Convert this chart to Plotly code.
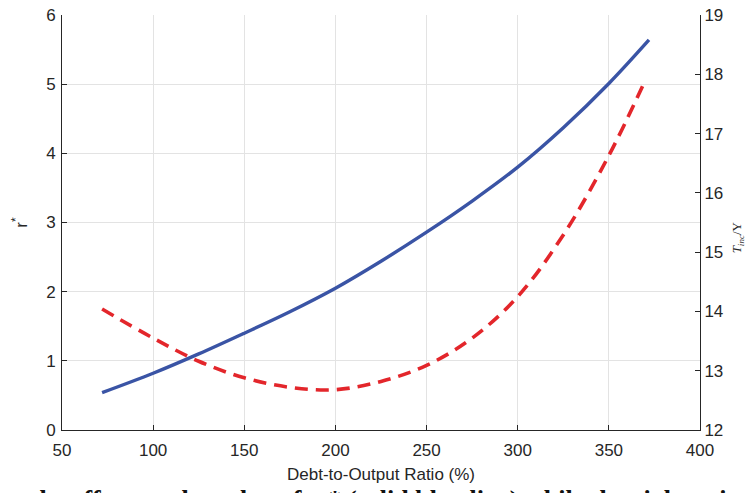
import plotly.graph_objects as go

# Data
debt_blue = [72, 100, 125, 150, 175, 200, 225, 250, 275, 300, 325, 350, 372]
r_star = [0.54, 0.82, 1.10, 1.40, 1.71, 2.05, 2.44, 2.86, 3.31, 3.80, 4.37, 5.01, 5.64]

debt_red = [72, 100, 125, 150, 175, 200, 225, 250, 275, 300, 325, 350, 370]
tinc_y = [14.04, 13.55, 13.16, 12.88, 12.72, 12.68, 12.82, 13.09, 13.55, 14.25, 15.29, 16.63, 17.90]

x_ticks = [50, 100, 150, 200, 250, 300, 350, 400]
y_ticks = [0, 1, 2, 3, 4, 5, 6]
y2_ticks = [12, 13, 14, 15, 16, 17, 18, 19]

axis_col = "#262626"
grid_col = "#e3e3e3"
font_fam = "Liberation Sans, Arial, sans-serif"

fig = go.Figure()
fig.add_trace(go.Scatter(
    x=debt_blue, y=r_star, mode="lines", line=dict(color="#3a54a5", width=3.4, shape="spline"),
    showlegend=False, yaxis="y"))
fig.add_trace(go.Scatter(
    x=debt_red, y=tinc_y, mode="lines",
    line=dict(color="#e3262b", width=3.6, dash="13px,8px", shape="spline"),
    showlegend=False, yaxis="y2"))

common = dict(ticks="inside", ticklen=5, tickcolor=axis_col, showline=True, linecolor=axis_col,
              linewidth=1, zeroline=False, automargin=False, ticklabeloverflow="allow")

fig.update_layout(
    width=748, height=485,
    margin=dict(l=54, r=56, t=7, b=63, autoexpand=False),
    paper_bgcolor="white", plot_bgcolor="white",
    font=dict(family=font_fam, size=17, color=axis_col),
    xaxis=dict(range=[50, 400], tickvals=x_ticks, showgrid=True, gridcolor=grid_col, gridwidth=1,
               ticklabelstandoff=5,
               title=dict(text="Debt-to-Output Ratio (%)", font=dict(size=17), standoff=8), **common),
    yaxis=dict(range=[0, 6], tickvals=y_ticks, showgrid=True, gridcolor=grid_col, gridwidth=1,
               ticklabelstandoff=2,
               title=dict(text="r<sup>*</sup>", font=dict(size=17), standoff=14), **common),
    yaxis2=dict(range=[12, 19], tickvals=y2_ticks, showgrid=False,
                overlaying="y", side="right", **common),
)

fig.add_annotation(
    xref="paper", yref="paper", x=1.075, y=0.465, showarrow=False, textangle=-90,
    text="<i>T<sub>inc</sub></i>/Y", font=dict(family="Liberation Serif, serif", size=13, color=axis_col))

fig.add_annotation(
    xref="paper", yref="paper", x=0.397, y=-0.127, xanchor="left", yanchor="top", showarrow=False,
    text="<b>r* (solid blue line) while the right axis</b>",
    font=dict(family="Liberation Serif, serif", size=26, color="#111111"))
fig.add_annotation(
    xref="paper", yref="paper", x=0.38, y=-0.127, xanchor="right", yanchor="top", showarrow=False,
    text="<b>indicates the effect on the value of</b>",
    font=dict(family="Liberation Serif, serif", size=26, color="#111111"))

fig.write_html("out.html")
